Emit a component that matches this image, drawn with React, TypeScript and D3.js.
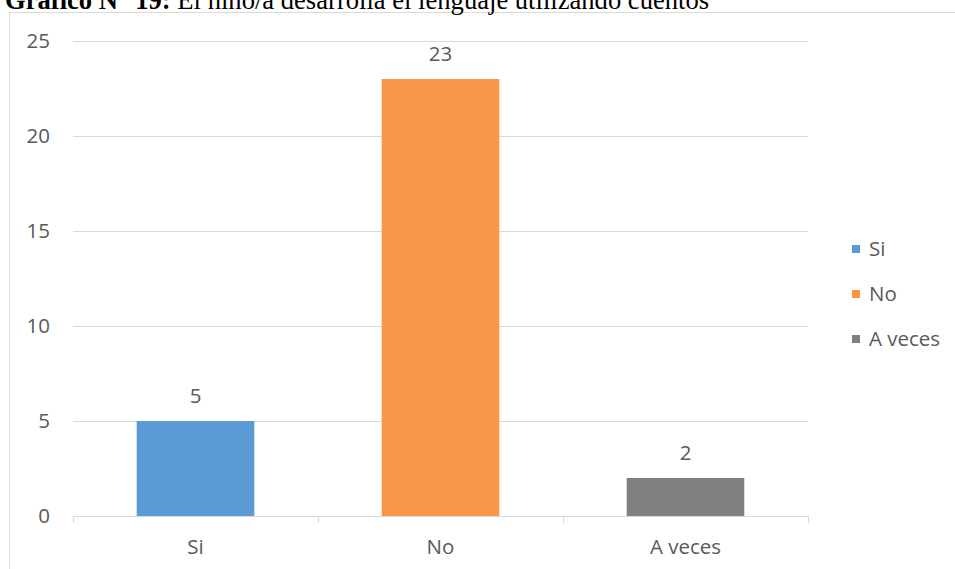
import React from "react";
import * as d3 from "d3";

const categories = ["Si", "No", "A veces"];
const values = [5, 23, 2];
const colors = ["#5b9bd5", "#f79646", "#7f7f7f"];
const yTicks = [0, 5, 10, 15, 20, 25];
const titleBold = "Gráfico N° 19:";
const titleRest = " El niño/a desarrolla el lenguaje utilizando cuentos";

export default function App() {
  const W = 955, H = 569;
  const x0 = 73, x1 = 808, yTop = 41, yBot = 516;
  const x = d3.scaleBand<string>().domain(categories).range([x0, x1]).padding(0);
  const y = d3.scaleLinear().domain([0, 25]).range([yBot, yTop]);
  const barW = x.bandwidth() * 0.48;
  const font = "'Open Sans', sans-serif";
  const txt = "#595959";
  const grid = "#d9d9d9";
  const fs = 20.5;
  return (
    <svg width={W} height={H} style={{ position: "absolute", left: 0, top: 0, background: "#fff" }}>
      <rect x={9.5} y={12.5} width={W} height={H} fill="#fff" stroke={grid} strokeWidth={1} />
      <text x={5} y={9} fontFamily="'Liberation Serif', 'Times New Roman', serif" fontSize={26.6} fill="#000">
        <tspan fontWeight="bold">{titleBold}</tspan>
        <tspan>{titleRest}</tspan>
      </text>
      {yTicks.map((t) => (
        <g key={t}>
          {t > 0 && <line x1={x0} x2={x1} y1={y(t) + 0.5} y2={y(t) + 0.5} stroke={grid} strokeWidth={1.2} />}
          <text x={50} y={y(t)} dy="0.35em" textAnchor="end" fontFamily={font} fontSize={fs} fill={txt}>{t}</text>
        </g>
      ))}
      {categories.map((c, i) => {
        const cx = (x(c) as number) + x.bandwidth() / 2;
        return (
          <g key={c}>
            <rect x={cx - barW / 2} y={y(values[i])} width={barW} height={yBot - y(values[i])} fill={colors[i]} />
            <text x={cx} y={y(values[i]) - 25} dy="0.35em" textAnchor="middle" fontFamily={font} fontSize={fs} fill={txt}>{values[i]}</text>
            <text x={cx} y={547} dy="0.35em" textAnchor="middle" fontFamily={font} fontSize={fs} fill={txt}>{c}</text>
          </g>
        );
      })}
      <line x1={x0} x2={x1} y1={yBot + 0.5} y2={yBot + 0.5} stroke={grid} strokeWidth={1.2} />
      {[0, 1, 2, 3].map((k) => {
        const xx = x0 + k * x.step();
        return <line key={k} x1={xx + 0.5} x2={xx + 0.5} y1={yBot} y2={yBot + 7} stroke={grid} strokeWidth={1.2} />;
      })}
      {categories.map((c, i) => (
        <g key={"lg" + c} transform={`translate(852, ${249 + i * 45})`}>
          <rect x={0} y={-4} width={8} height={8} fill={colors[i]} />
          <text x={17} y={0} dy="0.35em" fontFamily={font} fontSize={fs} fill={txt}>{c}</text>
        </g>
      ))}
    </svg>
  );
}
